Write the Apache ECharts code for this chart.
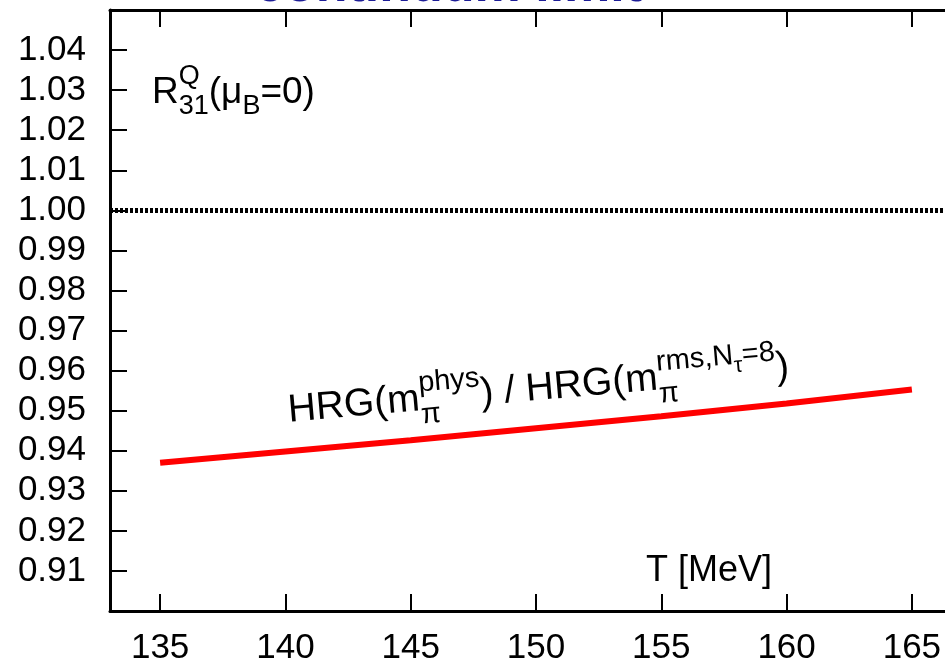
<!DOCTYPE html>
<html>
<head>
<meta charset="utf-8">
<script src="https://cdn.jsdelivr.net/npm/echarts@6/dist/echarts.min.js"></script>
<style>
  html, body { margin: 0; padding: 0; background: #fff; }
  #chart { width: 945px; height: 667px; }
</style>
</head>
<body>
<div id="chart"></div>
<script>
// data
const temps = [135, 140, 145, 150, 155, 160, 165];
const ratio = [0.9370, 0.9398, 0.9426, 0.9456, 0.9486, 0.9518, 0.9553];
const xTicks = [135, 140, 145, 150, 155, 160, 165];
const refLevel = 1.0;

const FONT = '"Liberation Sans", Arial, Helvetica, sans-serif';
const ctx = document.createElement('canvas').getContext('2d');
function textWidth(s, size) {
    ctx.font = size + 'px ' + FONT;
    return ctx.measureText(s).width;
}

// one text segment; dy is the baseline offset
function seg(t, size, x, dy) {
    return {
        type: 'text', x: x, y: dy - 0.31 * size,
        style: { text: t, fontSize: size, fontFamily: FONT, fill: '#000', verticalAlign: 'middle', align: 'left' }
    };
}

// pieces: {t,size,dy} or {stack:[[seg...],[seg...]]} (super/subscript on top of each other)
function mathText(pieces) {
    const out = [];
    let x = 0;
    pieces.forEach(p => {
        if (p.stack) {
            let w = 0;
            p.stack.forEach(row => {
                let rx = x;
                row.forEach(q => {
                    out.push(seg(q.t, q.size, rx, q.dy || 0));
                    rx += textWidth(q.t, q.size);
                });
                w = Math.max(w, rx - x);
            });
            x += w;
        } else {
            out.push(seg(p.t, p.size, x, p.dy || 0));
            x += textWidth(p.t, p.size);
        }
    });
    return out;
}

const rLabel = mathText([
    { t: 'R', size: 37 },
    { stack: [[{ t: 'Q', size: 27, dy: -19 }], [{ t: '31', size: 27, dy: 11 }]] },
    { t: '(\u03bc', size: 37 },
    { t: 'B', size: 27, dy: 11 },
    { t: '=0)', size: 37 }
]);

const hrgLabel = mathText([
    { t: 'HRG(m', size: 39 },
    { stack: [[{ t: 'phys', size: 29, dy: -19 }], [{ t: '\u03c0', size: 29, dy: 13 }]] },
    { t: ') / HRG(m', size: 39 },
    { stack: [[{ t: 'rms,N', size: 29, dy: -19 }, { t: '\u03c4', size: 22, dy: -11 }, { t: '=8', size: 29, dy: -19 }],
              [{ t: '\u03c0', size: 29, dy: 13 }]] },
    { t: ')', size: 39 }
]);

const chart = echarts.init(document.getElementById('chart'));

const axisCommon = {
    type: 'value',
    axisLine: { show: true, onZero: false, lineStyle: { color: '#000', width: 3 } },
    splitLine: { show: false }
};
const tickStyle = { inside: true, length: 17, lineStyle: { color: '#000', width: 2 } };

chart.setOption({
    animation: false,
    backgroundColor: '#fff',
    // the plot frame runs past the right edge of the picture
    grid: { left: 110, top: 10, width: 852, height: 601, outerBoundsMode: 'none', containLabel: false },
    xAxis: [
        Object.assign({}, axisCommon, {
            position: 'bottom', min: 133, max: 167,
            axisTick: Object.assign({ customValues: xTicks }, tickStyle),
            axisLabel: { customValues: xTicks, fontSize: 35, fontFamily: FONT, color: '#000', margin: 20 }
        }),
        Object.assign({}, axisCommon, {
            position: 'top', min: 133, max: 167,
            axisTick: Object.assign({ customValues: xTicks }, tickStyle),
            axisLabel: { show: false }
        })
    ],
    yAxis: [
        Object.assign({}, axisCommon, {
            position: 'left', min: 0.90, max: 1.05, interval: 0.01,
            axisTick: tickStyle,
            axisLabel: {
                fontSize: 35, fontFamily: FONT, color: '#000', margin: 24,
                showMinLabel: false, showMaxLabel: false,
                formatter: v => v.toFixed(2)
            }
        }),
        Object.assign({}, axisCommon, {
            position: 'right', min: 0.90, max: 1.05, interval: 0.01,
            axisTick: tickStyle,
            axisLabel: { show: false }
        })
    ],
    series: [{
        type: 'line',
        xAxisIndex: 0, yAxisIndex: 0,
        data: temps.map((t, i) => [t, ratio[i]]),
        symbol: 'none',
        lineStyle: { color: '#ff0000', width: 6 },
        markLine: {
            silent: true,
            symbol: ['none', 'none'],
            label: { show: false },
            lineStyle: { color: '#000', width: 5, type: [3, 2] },
            emphasis: { disabled: true },
            data: [{ yAxis: refLevel }]
        }
    }],
    graphic: [
        {
            type: 'text', left: 255, top: -39,
            style: { text: 'continuum limit', fontSize: 52, fontWeight: 'bold', fontFamily: FONT, fill: '#1c1c96' }
        },
        { type: 'group', x: 152, y: 104, children: rLabel },
        { type: 'group', x: 289, y: 423, rotation: 5 * Math.PI / 180, children: hrgLabel },
        {
            type: 'text', left: 646, top: 553,
            style: { text: 'T [MeV]', fontSize: 36, fontFamily: FONT, fill: '#000' }
        }
    ]
});
</script>
</body>
</html>
